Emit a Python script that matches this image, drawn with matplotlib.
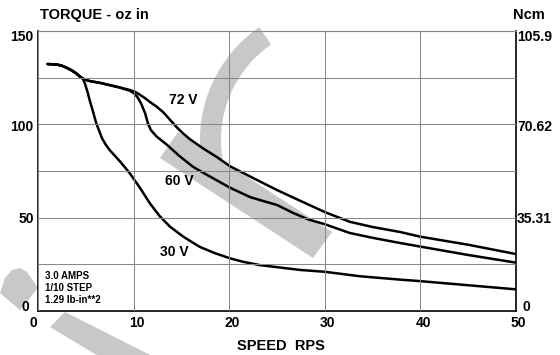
import matplotlib
matplotlib.use('Agg')
import matplotlib.pyplot as plt
from matplotlib.patches import Polygon, Circle
import numpy as np

# torque curves, speed in RPS, torque in oz-in
speed_72 = [1.0, 2.0, 2.5, 3.0, 3.5, 4.0, 4.4, 4.9, 5.4, 6.5, 7.5, 8.5, 9.6, 10.2, 10.7, 11.2,
            11.7, 12.4, 13.1, 13.8, 14.5, 15.2, 15.9, 17.3, 18.7, 20.1, 22.9, 25, 27.4, 30,
            32.6, 35, 37.9, 40, 45, 50]
torque_72 = [132.3, 132, 131.4, 130.3, 129, 127.3, 125.5, 124, 123.2, 122.2, 121, 119.8, 118.4,
             117.3, 115.7, 114, 112, 109.5, 106.5, 102.5, 98.5, 95, 92, 87, 82.5, 77.5, 70.2,
             64.8, 59.1, 53, 47.8, 45, 42.3, 39.8, 35.5, 30.5]

speed_60 = [1.0, 2.0, 2.5, 3.0, 3.5, 4.0, 4.4, 4.9, 5.4, 6.5, 7.5, 8.5, 9.6, 10.0, 10.4, 10.8,
            11.2, 11.5, 11.8, 12.4, 13.5, 14.8, 16.2, 17.3, 18.7, 20.1, 22.2, 23.5, 25, 26.7,
            28.3, 30, 32.6, 35, 37.9, 40, 45, 50]
torque_60 = [132.3, 132, 131.4, 130.3, 129, 127.3, 125.5, 124, 123.2, 122.2, 121, 119.8, 118,
             116.8, 114.6, 111, 106, 100.5, 97, 93.5, 89, 83, 77.3, 74, 70, 66, 61, 59, 56.8,
             52.5, 49, 46.5, 41.8, 39.2, 36.4, 34.5, 30, 25.9]

speed_30 = [1.0, 2.0, 2.5, 3.0, 3.5, 4.0, 4.4, 4.7, 4.9, 5.2, 5.4, 5.8, 6.1, 6.7, 7.1, 7.5,
            8.6, 9.6, 10.7, 11.7, 12.7, 13.8, 15.2, 16.9, 18.5, 20.1, 21.5, 23.2, 27.4, 30,
            33.7, 37.9, 40, 45, 50]
torque_30 = [132.3, 132, 131.4, 130.3, 129, 127.3, 125.5, 124.3, 122, 117, 113, 106, 100.5,
             92.5, 89, 86.2, 80, 73.8, 65.7, 57.7, 51, 45.2, 39.8, 34.4, 31, 28.2, 26.3, 24.6,
             22, 21, 18.6, 16.8, 16, 13.8, 11.6]

curve_labels = ['72 V', '60 V', '30 V']
label_pos = [(15.2, 113), (14.75, 69.6), (14.3, 31.6)]

x_ticks = [0, 10, 20, 30, 40, 50]
oz_ticks = [0, 50, 100, 150]
oz_labels = ['0', '50', '100', '150']
ncm_labels = ['0', '35.31', '70.62', '105.9']
info_lines = ['3.0 AMPS', '1/10 STEP', '1.29 lb-in**2']

plt.rcParams['font.family'] = ['Liberation Sans', 'DejaVu Sans']
plt.rcParams['font.weight'] = 'bold'

W, H = 560, 355
fig = plt.figure(figsize=(W / 100, H / 100), dpi=100)
ax = fig.add_axes([38 / W, 1 - 311 / H, 478 / W, 280 / H])
ax.patch.set_alpha(0)

# gray watermark shapes behind the chart (pixel coords, y from top)
def px(pts):
    return [(x / W, 1 - y / H) for x, y in pts]

wm = '#c8c8c8'
t = np.radians(np.linspace(124.6, 190, 60))
outer = [(337 + 137 * np.cos(a), 140 - 137 * np.sin(a)) for a in t]
inner = [(337 + 116 * np.cos(a), 140 - 116 * np.sin(a)) for a in t[::-1]]
shapes = [outer + inner,
          [(178, 132), (332, 232), (313, 258), (160, 158)],
          [(0, 293), (5, 278), (12, 270), (20, 268), (27, 272), (38, 288), (20, 310)],
          [(65, 312), (172, 366), (115, 366), (50, 327)]]
for s in shapes:
    fig.add_artist(Polygon(px(s), closed=True, transform=fig.transFigure,
                           facecolor=wm, edgecolor='none', zorder=-5))
fig.add_artist(Circle((428 / W, 1 + 65 / H), 75 / W, transform=fig.transFigure,
                      facecolor=wm, edgecolor='none', zorder=-5))

for xs, ys in [(speed_72, torque_72), (speed_60, torque_60), (speed_30, torque_30)]:
    ax.plot(xs, ys, color='black', lw=1.8, solid_joinstyle='round', solid_capstyle='round')

for lab, (x, y) in zip(curve_labels, label_pos):
    ax.text(x, y, lab, fontsize=10, fontweight='bold', ha='center', va='center')

ax.text(0.73, 12.3, '\n'.join(info_lines), fontsize=7, fontweight='bold',
        ha='left', va='center', linespacing=1.25)

ax.set_xlim(0, 50)
ax.set_ylim(0, 150)
ax.set_xticks(x_ticks)
ax.set_yticks(range(0, 151, 25))
ax.grid(True, color='#888888', lw=0.75)
ax.set_axisbelow(False)
ax.tick_params(length=0, labelleft=False, labelbottom=False)
for side in ['left', 'bottom', 'right']:
    ax.spines[side].set_color('black')
    ax.spines[side].set_linewidth(1.2)
ax.spines['top'].set_color('#777777')
ax.spines['top'].set_linewidth(0.8)

# tick labels drawn by hand so they can sit like the original
yoff = [2.9, -1.2, -2.2, -4.3]
for v, lab, dy in zip(oz_ticks, oz_labels, yoff):
    dx = -6 if v == 0 else -3
    ax.annotate(lab, xy=(0, v), xycoords=('axes fraction', 'data'), xytext=(dx, dy),
                textcoords='offset points', ha='right', va='center', fontsize=10,
                fontweight='bold')
for v, lab, dy in zip(oz_ticks, ncm_labels, yoff):
    dx = 5 if v == 0 else 0.8
    ax.annotate(lab, xy=(1, v), xycoords=('axes fraction', 'data'), xytext=(dx, dy),
                textcoords='offset points', ha='left', va='center', fontsize=10,
                fontweight='bold')
for v in x_ticks:
    dx = -3 if v == 0 else 2
    ax.annotate(str(v), xy=(v, 0), xycoords=('data', 'axes fraction'), xytext=(dx, -8.5),
                textcoords='offset points', ha='center', va='center', fontsize=10,
                fontweight='bold')

fig.text(40 / W, 1 - 15 / H, 'TORQUE - oz in', fontsize=10.5, fontweight='bold',
         ha='left', va='center')
fig.text(513 / W, 1 - 15 / H, 'Ncm', fontsize=10.5, fontweight='bold',
         ha='left', va='center')
fig.text(281 / W, 1 - 346 / H, 'SPEED  RPS', fontsize=10.5, fontweight='bold',
         ha='center', va='center')

fig.savefig('out.png', dpi=100)
